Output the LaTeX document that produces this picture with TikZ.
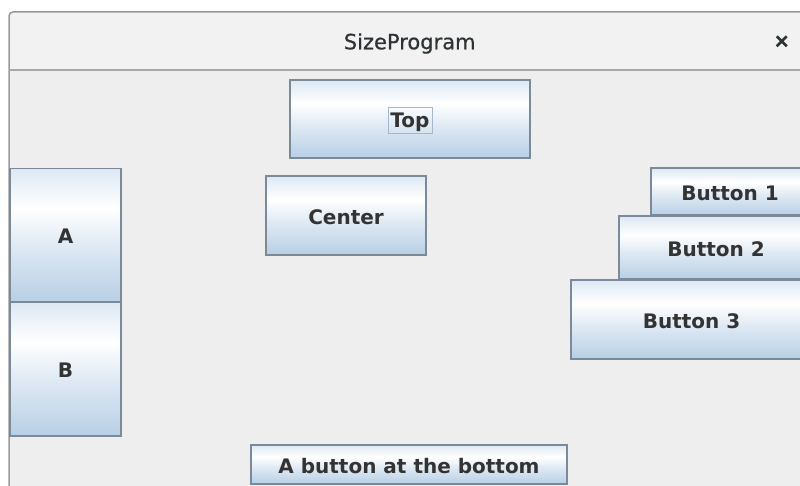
\documentclass[tikz,border=0pt]{standalone}
\usepackage{fontspec}
\setmainfont{DejaVu Sans}
\newfontfamily\titlefont[FakeBold=0.6]{DejaVu Sans}
\definecolor{winbg}{HTML}{EEEEEE}
\definecolor{titlebg}{HTML}{F2F2F2}
\definecolor{framecol}{HTML}{9A9A9A}
\definecolor{sepcol}{HTML}{A8A8A8}
\definecolor{btnA}{HTML}{DDE8F3}
\definecolor{btnC}{HTML}{B8CFE5}
\definecolor{btnborder}{HTML}{7A8A99}
\definecolor{focuscol}{HTML}{A3B8CC}
\definecolor{txt}{HTML}{333333}
\definecolor{titletxt}{HTML}{2E3436}
\pgfdeclareverticalshading{btnshade}{100bp}{color(0bp)=(btnC); color(25bp)=(btnC); color(45bp)=(btnA); color(60bp)=(white); color(75bp)=(btnA); color(100bp)=(btnA)}
\begin{document}
\begin{tikzpicture}[x=1pt,y=-1pt,
  btn/.style={draw=btnborder, line width=1.2pt, shading=btnshade, inner sep=0pt, outer sep=0pt,
    font=\fontsize{20}{22}\selectfont\bfseries, text=txt, text height=17.6pt, text depth=0pt},
  lbl/.style={font=\fontsize{20}{22}\selectfont\bfseries, text=txt, text height=14.5pt, text depth=0pt, inner sep=0pt}]
\useasboundingbox (0,0) rectangle (800,486);
\clip (0,0) rectangle (800,486);
\fill[white] (0,0) rectangle (800,486);
\fill[titlebg, rounded corners=4pt] (9,12) rectangle (830,90);
\fill[winbg] (9,70) rectangle (800,486);
\draw[framecol, line width=1.5pt, rounded corners=4pt] (9,500) |- (830,12);
\draw[sepcol, line width=1.5pt] (9,70) -- (800,70);
\node[font=\fontsize{21}{24}\selectfont\titlefont, text=titletxt, anchor=base, inner sep=0pt] (title) at (409.7,49.3) {SizeProgram};
\coordinate (close) at (781.7,41.3);
\draw[titletxt, line width=2.6pt] ([shift={(-5,-5)}]close) -- ([shift={(5,5)}]close)
  ([shift={(-5,5)}]close) -- ([shift={(5,-5)}]close);
\node[btn, minimum width=240pt, minimum height=78pt] (top) at (410,119) {};
\node[lbl, draw=focuscol, line width=0.8pt, minimum width=44pt, minimum height=26pt] (toplbl) at (410,120) {Top};
\node[btn, minimum width=160pt, minimum height=79pt] (center) at (346,215.5) {Center};
\node[btn, minimum width=111pt, minimum height=133pt] (a) at (65.5,235) {A};
\node[btn, minimum width=111pt, minimum height=134pt] (b) at (65.5,369) {B};
\node[btn, minimum width=158pt, minimum height=47pt] (b1) at (730,191.5) {Button 1};
\node[btn, minimum width=194pt, minimum height=63pt] (b2) at (716,247.5) {Button 2};
\node[btn, minimum width=241pt, minimum height=79pt] (b3) at (691.5,319.5) {Button 3};
\node[btn, minimum width=316pt, minimum height=39pt] (bottom) at (409,464.5) {A button at the bottom};
\end{tikzpicture}
\end{document}
